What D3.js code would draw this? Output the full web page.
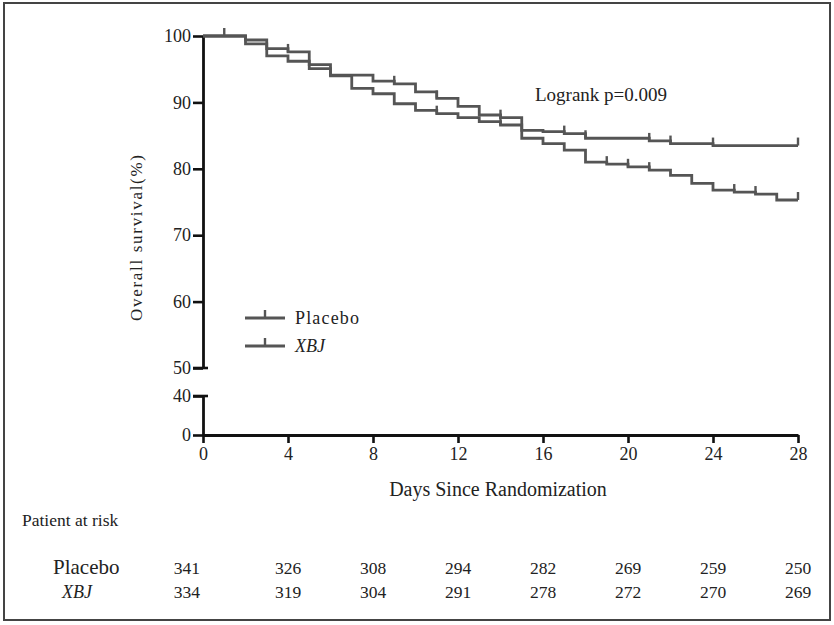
<!DOCTYPE html>
<html>
<head>
<meta charset="utf-8">
<script src="https://cdn.jsdelivr.net/npm/d3@7"></script>
<style>
  html, body { margin: 0; padding: 0; background: #fff; }
  svg { display: block; }
  text { font-family: "Liberation Serif", "DejaVu Serif", serif; fill: #222; }
</style>
</head>
<body>
<svg id="chart" width="834" height="625"></svg>
<script>
// ---- data ----
const days = [0,1,2,3,4,5,6,7,8,9,10,11,12,13,14,15,16,17,18,19,20,21,22,23,24,25,26,27,28];
const xbjSurvival = [100,100,99.4,98.1,97.6,95.7,94.1,94.1,93.2,92.8,91.6,90.6,89.4,88.1,87.7,85.8,85.6,85.3,84.6,84.6,84.6,84.2,83.8,83.8,83.5,83.5,83.5,83.5,83.5];
const placeboSurvival = [100,100,98.8,97.0,96.2,95.1,94.0,92.1,91.3,89.8,88.8,88.3,87.7,87.1,86.6,84.6,83.8,82.8,81.0,80.7,80.3,79.8,79.0,77.8,76.8,76.5,76.2,75.3,75.3];
const xbjCensor = [1,4,9,11,14,17,18,21,22,24,28];
const placeboCensor = [11,14,19,20,21,25,26,28];
const xTicks = [0,4,8,12,16,20,24,28];
const yTicksUpper = [50,60,70,80,90,100];
const yTicksLower = [0,40];
const riskDays = [0,4,8,12,16,20,24,28];
const riskPlacebo = [341,326,308,294,282,269,259,250];
const riskXBJ = [334,319,304,291,278,272,270,269];
const groups = ["Placebo","XBJ"];

// ---- layout ----
const svg = d3.select("#chart");
const lineColor = "#555";

svg.append("rect").attr("x",4).attr("y",3).attr("width",826).attr("height",617)
  .attr("fill","none").attr("stroke","#444").attr("stroke-width",2);

const x = d3.scaleLinear().domain([0,28]).range([203,798]);
const yU = d3.scaleLinear().domain([50,100]).range([368,36]);
const yL = d3.scaleLinear().domain([0,40]).range([435,396]);

const gYU = svg.append("g").attr("transform",`translate(${x(0)},0)`)
  .call(d3.axisLeft(yU).tickValues(yTicksUpper).tickSize(10).tickSizeOuter(0).tickPadding(2));
const gYL = svg.append("g").attr("transform",`translate(${x(0)},0)`)
  .call(d3.axisLeft(yL).tickValues(yTicksLower).tickSize(10).tickSizeOuter(0).tickPadding(2));
const gX = svg.append("g").attr("transform",`translate(0,${yL(0)})`)
  .call(d3.axisBottom(x).tickValues(xTicks).tickSize(8).tickSizeOuter(0).tickPadding(4));

[gYU,gYL,gX].forEach(g=>{
  g.select(".domain").attr("stroke","#111").attr("stroke-width",2.8);
  g.selectAll(".tick line").attr("stroke","#111").attr("stroke-width",2.6);
  g.selectAll(".tick text").style("font-size","18px").attr("fill","#333")
   .style("font-family","'Liberation Serif', serif");
});
svg.append("line").attr("x1",x(0)-10).attr("x2",x(0)+5).attr("y1",yU(50)).attr("y2",yU(50))
  .attr("stroke","#111").attr("stroke-width",2.6);
svg.append("line").attr("x1",x(0)-10).attr("x2",x(0)+5).attr("y1",yL(40)).attr("y2",yL(40))
  .attr("stroke","#111").attr("stroke-width",2.6);

// axis titles
svg.append("text").attr("transform",`translate(142,${238}) rotate(-90)`)
  .attr("text-anchor","middle").style("font-size","17px")
  .attr("textLength",166).attr("lengthAdjust","spacing").text("Overall survival(%)");
svg.append("text").attr("x",498).attr("y",496).attr("text-anchor","middle")
  .style("font-size","20px").text("Days Since Randomization");

// curves
const line = d3.line().x((d,i)=>x(days[i])).y(d=>yU(d)).curve(d3.curveStepAfter);
[[xbjSurvival,xbjCensor],[placeboSurvival,placeboCensor]].forEach(([vals,cens])=>{
  svg.append("path").datum(vals).attr("d",line).attr("fill","none")
    .attr("stroke",lineColor).attr("stroke-width",2.8).attr("stroke-linejoin","miter");
  svg.selectAll(null).data(cens).enter().append("line")
    .attr("x1",d=>x(d)).attr("x2",d=>x(d))
    .attr("y1",d=>yU(vals[days.indexOf(d)])).attr("y2",d=>yU(vals[days.indexOf(d)])-8)
    .attr("stroke",lineColor).attr("stroke-width",2.4);
});

// logrank
svg.append("text").attr("x",535).attr("y",101).style("font-size","19px").text("Logrank  p=0.009");

// legend
groups.forEach((g,i)=>{
  const ly = 318 + i*28;
  svg.append("line").attr("x1",245).attr("x2",285).attr("y1",ly).attr("y2",ly)
    .attr("stroke",lineColor).attr("stroke-width",2.8);
  svg.append("line").attr("x1",265).attr("x2",265).attr("y1",ly).attr("y2",ly-8)
    .attr("stroke",lineColor).attr("stroke-width",2.4);
  const t = svg.append("text").attr("x",295).attr("y",ly+6).style("font-size","18px")
    .style("font-style", g==="XBJ" ? "italic" : "normal").text(g);
  if (g==="Placebo") t.attr("textLength",64).attr("lengthAdjust","spacing");
});

// risk table
svg.append("text").attr("x",22).attr("y",526).style("font-size","17.5px").text("Patient at risk");
[[riskPlacebo,574,"Placebo"],[riskXBJ,598,"XBJ"]].forEach(([vals,ry,label])=>{
  svg.append("text").attr("x", label==="XBJ" ? 62 : 53).attr("y",ry)
    .style("font-size", label==="XBJ" ? "18px" : "21px")
    .style("font-style", label==="XBJ" ? "italic" : "normal").text(label);
  svg.selectAll(null).data(vals).enter().append("text")
    .attr("x",(d,i)=> riskDays[i]===0 ? x(0)-3 : x(riskDays[i]))
    .attr("y",ry).attr("text-anchor",(d,i)=> riskDays[i]===0 ? "end" : "middle")
    .style("font-size","17.5px").text(d=>d);
});
</script>
</body>
</html>
